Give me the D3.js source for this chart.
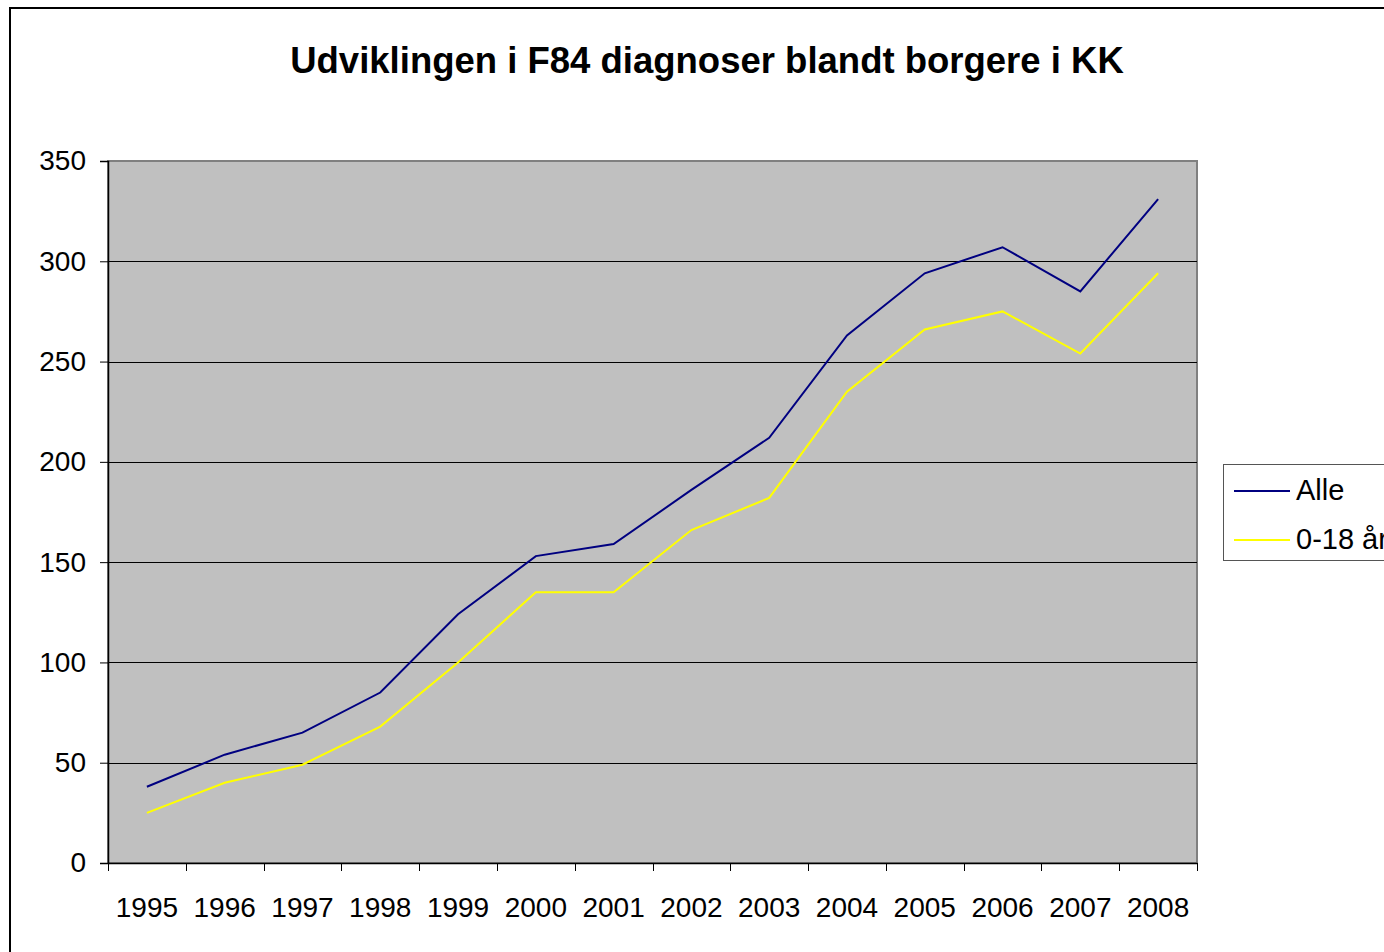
<!DOCTYPE html>
<html>
<head>
<meta charset="utf-8">
<script src="https://cdn.jsdelivr.net/npm/d3@7"></script>
<style>
  body { margin: 0; background: #fff; }
  svg { display: block; font-family: "Liberation Sans", Arial, sans-serif; }
</style>
</head>
<body>
<script>
// data
const years = ["1995","1996","1997","1998","1999","2000","2001","2002","2003","2004","2005","2006","2007","2008"];
const alle = [38, 54, 65, 85, 124, 153, 159, 186, 212, 263, 294, 307, 285, 331];
const boern = [25, 40, 49, 68, 100, 135, 135, 166, 182, 235, 266, 275, 254, 294];
const yTicks = [0, 50, 100, 150, 200, 250, 300, 350];
const seriesNames = ["Alle", "0-18 år"];
const seriesColors = ["#000080", "#ffff00"];

const W = 1384, H = 952;
const plot = {left: 108, top: 161, right: 1197, bottom: 863};

const svg = d3.select("body").append("svg")
    .attr("width", W)
    .attr("height", H);

// outer chart frame
svg.append("rect")
    .attr("x", 10).attr("y", 8)
    .attr("width", W).attr("height", H)
    .attr("fill", "#fff")
    .attr("stroke", "#000")
    .attr("stroke-width", 2);

// title
svg.append("text")
    .attr("x", 707).attr("y", 73)
    .attr("text-anchor", "middle")
    .attr("font-size", 36.5)
    .attr("font-weight", "bold")
    .text("Udviklingen i F84 diagnoser blandt borgere i KK");

var x = d3.scaleBand().domain(years).range([plot.left, plot.right]);
var y = d3.scaleLinear().domain([0, 350]).range([plot.bottom, plot.top]);

// plot background
svg.append("rect")
    .attr("x", plot.left).attr("y", plot.top)
    .attr("width", plot.right - plot.left)
    .attr("height", plot.bottom - plot.top)
    .attr("fill", "#c0c0c0")
    .attr("stroke", "#808080")
    .attr("stroke-width", 2);

// gridlines
svg.append("g").selectAll("line")
    .data(yTicks.filter(d => d > 0 && d < 350))
    .enter().append("line")
    .attr("x1", plot.left).attr("x2", plot.right)
    .attr("y1", d => Math.round(y(d)) + 0.5)
    .attr("y2", d => Math.round(y(d)) + 0.5)
    .attr("stroke", "#000")
    .attr("stroke-width", 1);

// y axis
var yAxis = svg.append("g")
    .attr("transform", `translate(${plot.left},0)`)
    .call(d3.axisLeft(y).tickValues(yTicks).tickSize(8).tickPadding(14));
yAxis.select(".domain").attr("stroke", "#000").attr("stroke-width", 1.5);
yAxis.selectAll(".tick line").attr("stroke", "#000");
yAxis.selectAll("text")
    .attr("font-size", 28)
    .attr("font-family", "Liberation Sans, Arial, sans-serif")
    .attr("fill", "#000");

// x axis
var xAxis = svg.append("g")
    .attr("transform", `translate(0,${plot.bottom})`)
    .call(d3.axisBottom(x).tickSize(0).tickPadding(34));
xAxis.select(".domain").attr("stroke", "#000").attr("stroke-width", 1.5);
xAxis.selectAll("text")
    .attr("font-size", 28)
    .attr("font-family", "Liberation Sans, Arial, sans-serif")
    .attr("fill", "#000");
// ticks between categories
xAxis.selectAll(".bound")
    .data(years.concat(["end"]))
    .enter().append("line")
    .attr("x1", (d, i) => Math.round(plot.left + i * x.step()) + 0.5)
    .attr("x2", (d, i) => Math.round(plot.left + i * x.step()) + 0.5)
    .attr("y1", 0).attr("y2", 8)
    .attr("stroke", "#000");

// lines
var valueline = d3.line()
    .x((d, i) => x(years[i]) + x.bandwidth() / 2)
    .y(d => y(d));

[alle, boern].forEach((s, k) => {
    svg.append("path")
        .datum(s)
        .attr("fill", "none")
        .attr("stroke", seriesColors[k])
        .attr("stroke-width", 2)
        .attr("d", valueline);
});

// legend
var lg = svg.append("g");
lg.append("rect")
    .attr("x", 1223.5).attr("y", 464.5)
    .attr("width", 200).attr("height", 96)
    .attr("fill", "#fff")
    .attr("stroke", "#555")
    .attr("stroke-width", 1);
seriesNames.forEach((name, k) => {
    var ly = 491 + k * 49;
    lg.append("line")
        .attr("x1", 1234).attr("x2", 1290)
        .attr("y1", ly).attr("y2", ly)
        .attr("stroke", seriesColors[k])
        .attr("stroke-width", 2);
    lg.append("text")
        .attr("x", 1296).attr("y", ly + 9)
        .attr("font-size", 29)
        .text(name);
});
</script>
</body>
</html>
